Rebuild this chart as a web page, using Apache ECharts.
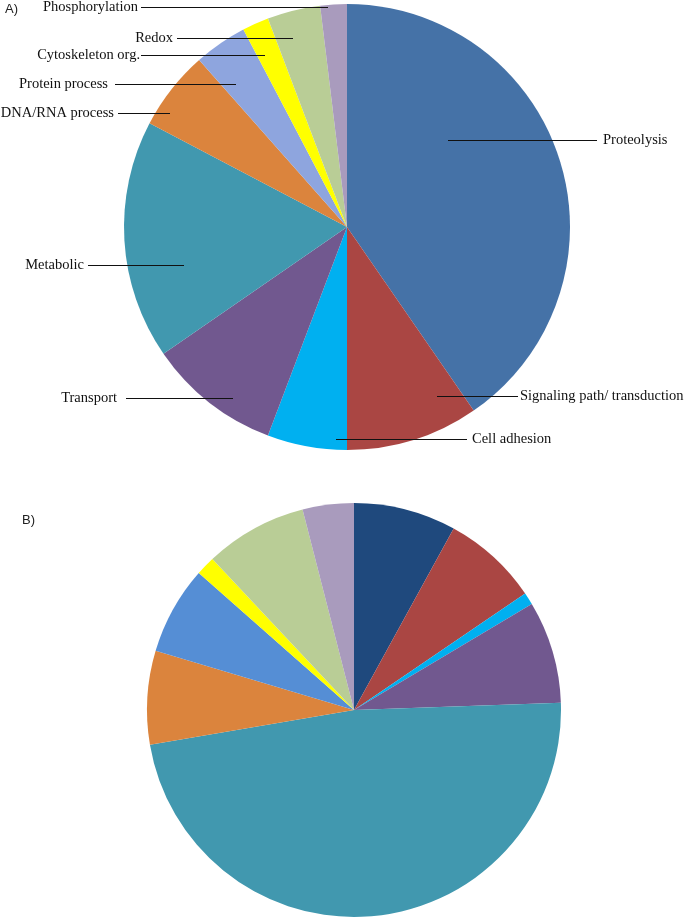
<!DOCTYPE html>
<html>
<head>
<meta charset="utf-8">
<script src="https://cdn.jsdelivr.net/npm/echarts@6/dist/echarts.min.js"></script>
<style>html,body{margin:0;padding:0;background:#fff}#c{width:685px;height:919px}</style>
</head>
<body>
<div id="c"></div>
<script>
// Pie A: categories and values (gene counts)
const catsA = ['Proteolysis','Signaling path/ transduction','Cell adhesion','Transport','Metabolic','DNA/RNA process','Protein process','Cytoskeleton org.','Redox','Phosphorylation'];
const valsA = [21, 5, 3, 5, 9, 3, 2, 1, 2, 1];
const colorsA = ['#4572A7','#AA4643','#00B0F0','#71588F','#4198AF','#DB843D','#8EA5DE','#FFFF00','#B9CD96','#A99BBD'];

// Pie B: same category order, values in percent
const catsB = ['Proteolysis','Signaling path/ transduction','Cell adhesion','Transport','Metabolic','DNA/RNA process','Protein process','Cytoskeleton org.','Redox','Phosphorylation'];
const valsB = [8.0, 7.5, 0.95, 8.0, 47.9, 7.3, 6.9, 1.5, 8.0, 4.0];
const colorsB = ['#1F497D','#AA4643','#00B0F0','#71588F','#4198AF','#DB843D','#558ED5','#FFFF00','#B9CD96','#A99BBD'];

// label placement for pie A: [text anchor x, y, align, line start x, line end x]
const labelPosA = [
  [603, 140, 'left', 597, 448],
  [520, 396, 'left', 518, 437],
  [472, 439, 'left', 467, 336],
  [117, 398, 'right', 126, 233],
  [84, 265, 'right', 88, 184],
  [114, 113, 'right', 118, 170],
  [108, 84, 'right', 115, 236],
  [140, 55, 'right', 141, 265],
  [173, 38, 'right', 177, 293],
  [138, 7, 'right', 141, 328]
];

const leaderLines = labelPosA.map(L => ({
  type: 'line', z: 100, silent: true,
  shape: {x1: L[3], y1: L[1] + 0.5, x2: L[4], y2: L[1] + 0.5},
  style: {stroke: '#111', lineWidth: 1}
}));

const chart = echarts.init(document.getElementById('c'), null, {renderer:'canvas'});
chart.setOption({
  animation: false,
  backgroundColor: '#ffffff',
  graphic: [
    {type:'text', left: 5, top: 3, z: 100, style:{text:'A)', font:'13px "Liberation Sans", Arial, sans-serif', fill:'#222'}},
    {type:'text', left: 22, top: 514, z: 100, style:{text:'B)', font:'13px "Liberation Sans", Arial, sans-serif', fill:'#222'}}
  ].concat(leaderLines),
  series: [
    {
      type: 'pie',
      center: [347, 227],
      radius: [0, 223],
      startAngle: 90,
      clockwise: true,
      avoidLabelOverlap: false,
      silent: true,
      data: catsA.map((n, i) => ({name: n, value: valsA[i], itemStyle: {color: colorsA[i]}})),
      itemStyle: {borderWidth: 0},
      label: {
        show: true, position: 'outside', formatter: '{b}',
        fontFamily: '"Liberation Serif", "Times New Roman", serif', fontSize: 14.5, color: '#111'
      },
      labelLine: {show: false},
      labelLayout: function (p) {
        const L = labelPosA[p.dataIndex];
        return {x: L[0], y: L[1], align: L[2], verticalAlign: 'middle'};
      }
    },
    {
      type: 'pie',
      center: [354, 710],
      radius: [0, 207],
      startAngle: 90,
      clockwise: true,
      silent: true,
      data: catsB.map((n, i) => ({name: n, value: valsB[i], itemStyle: {color: colorsB[i]}})),
      itemStyle: {borderWidth: 0},
      label: {show: false},
      labelLine: {show: false}
    }
  ]
});
</script>
</body>
</html>
